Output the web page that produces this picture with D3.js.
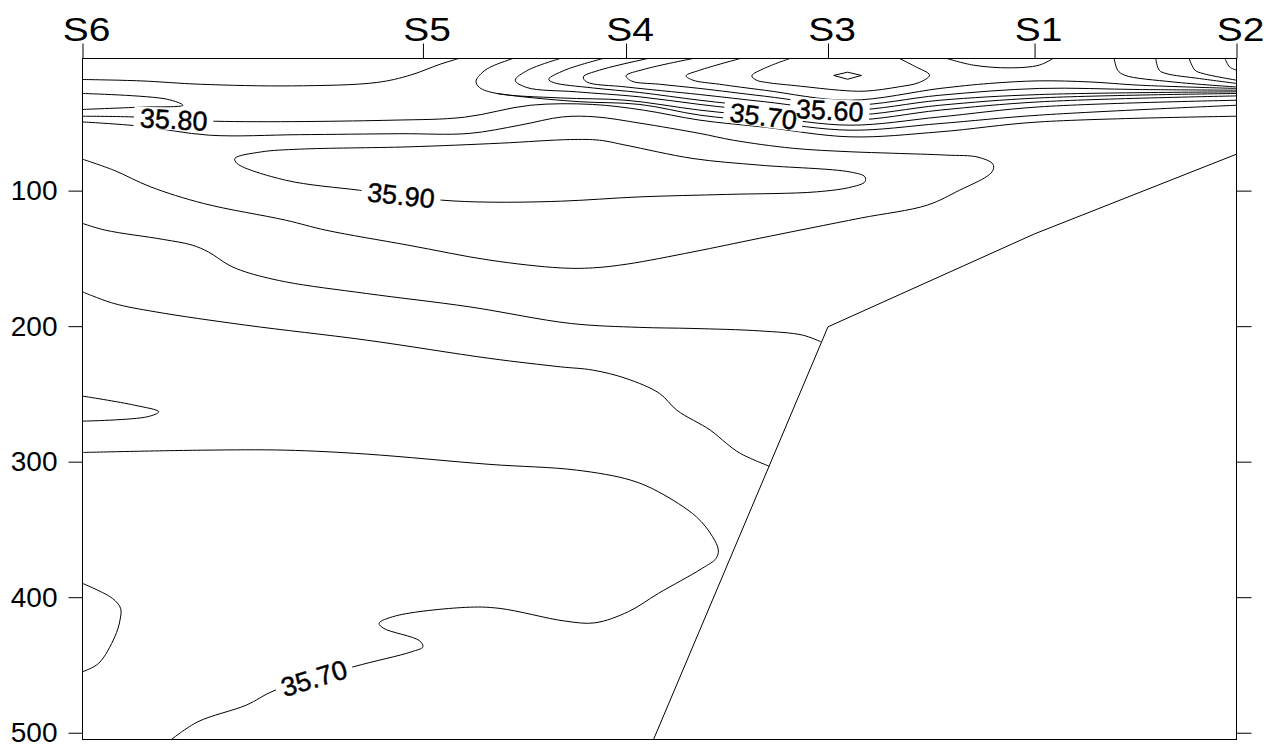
<!DOCTYPE html>
<html><head><meta charset="utf-8">
<script src="https://cdn.jsdelivr.net/npm/d3@7"></script>
<style>
html,body{margin:0;padding:0;background:#fff;}
svg{display:block;background:#fff;}
</style></head><body>
<svg id="chart" width="1269" height="749"></svg>
<script>
// ---- Stations along the section (distance, km-like units 0..100) ----
const stationNames = ["S6","S5","S4","S3","S1","S2"];
const stationDist  = [0, 29.5, 47.1, 64.6, 82.5, 100];
const depthTicks   = [100, 200, 300, 400, 500];

// ---- Bottom profile (distance, depth m) ----
const bottomDist  = [100, 82.5, 64.6, 47.1];
const bottomDepth = [73.1, 131.9, 200.5, 553];

// ---- Salinity isolines: [distance, depth] ----
const iso_a  = [[0,18.0],[5.0,19.0],[10.2,21.5],[18.2,22.7],[25.5,20.2],[28.4,14.8],[31.0,6.7],[32.6,2.5]];
const iso_b  = [[0,28.3],[7.3,32.5],[8.7,37.0],[5.0,38.4],[0,40.1]];
const iso_3580 = [[0,45.1],[4.3,45.6],[11.5,48.8],[26.9,48.0],[33.1,45.8],[38.8,37.0],[44.2,36.4],[48.6,40.6],[53.5,48.0],[59.1,53.2],[66.5,60.3],[74.3,56.6],[82.9,49.3],[100,45.1]];
const iso_3575 = [[35.9,28.3],[38.0,30.6],[43.1,34.4],[48.3,36.4],[53.5,44.3],[59.1,49.1],[66.5,55.4],[74.3,50.5],[82.9,44.3],[100,37.0]];
const iso_3570 = [[37.3,2.5],[35.5,8.2],[34.7,12.4],[34.1,19.2],[34.4,23.9],[35.9,28.3],[41.4,31.6],[47.1,33.3],[53.5,40.6],[59.1,45.4],[66.5,51.7],[74.3,45.6],[82.9,38.2],[100,33.3]];
const iso_3565 = [[41.4,2.5],[38.6,11.1],[37.5,18.5],[38.5,23.9],[42.8,27.1],[48.3,30.8],[53.5,36.4],[59.1,41.7],[66.5,48.0],[74.3,40.6],[82.9,34.5],[100,30.1]];
const iso_3560 = [[45.1,2.5],[41.8,11.1],[40.4,17.8],[40.8,20.2],[44.2,24.2],[48.3,27.6],[53.5,33.3],[59.1,38.4],[66.5,44.3],[74.3,37.0],[82.9,31.6],[100,28.3]];
const iso_3555 = [[49.0,2.5],[44.8,11.1],[43.4,16.1],[43.7,19.8],[47.1,23.5],[53.5,29.1],[59.1,34.4],[66.5,40.6],[74.3,33.3],[82.9,29.1],[100,27.1]];
const iso_3550 = [[52.9,2.5],[48.7,10.4],[47.1,15.3],[47.6,19.2],[50.0,21.5],[53.5,24.6],[59.1,30.3],[66.5,37.0],[74.3,29.6],[82.9,24.6],[91.6,25.4],[100,25.9]];
const iso_3545 = [[57.0,2.5],[53.5,11.1],[52.3,15.3],[52.9,18.5],[55.2,21.5],[59.1,25.9],[66.5,33.3],[74.3,24.6],[78.6,20.9],[82.9,19.0],[87.3,19.8],[91.6,22.2],[100,24.6]];
const iso_3540 = [[61.3,2.5],[59.1,9.7],[58.0,15.3],[58.4,18.5],[59.3,20.2],[62.2,22.9],[65.6,25.9],[67.8,26.6],[70.8,23.3],[72.5,20.2],[73.4,14.8],[72.1,8.2],[70.8,2.5]];
const iso_3535 = [[65.1,15.0],[66.3,12.6],[67.5,15.0],[66.3,17.8]];
const iso_s1   = [[74.9,2.5],[77.2,7.4],[80.3,9.4],[82.9,7.4],[84.1,2.5]];
const iso_e1   = [[89.4,2.5],[89.7,11.1],[90.3,14.8],[94.5,19.8],[100,23.5]];
const iso_e2   = [[93.0,2.5],[93.3,11.1],[93.9,13.6],[96.8,17.3],[100,20.9]];
const iso_e3   = [[95.9,2.5],[96.4,11.1],[97.1,13.6],[100,18.5]];
const iso_e4   = [[99.0,2.5],[99.4,8.7],[100,11.1]];
const iso_3585 = [[0,49.3],[5.0,52.4],[11.0,59.1],[18.8,58.7],[27.5,58.0],[33.5,57.8],[37.9,51.7],[41.6,45.6],[44.5,45.6],[48.3,50.2],[53.5,57.8],[56.4,62.8],[61.5,68.7],[66.5,71.3],[70.2,72.4],[74.9,73.8],[77.6,75.3],[78.9,80.5],[78.9,84.9],[78.4,89.3],[76.0,99.7],[73.2,110.7],[67.4,120.3],[58.7,135.1],[52.9,145.2],[47.2,154.2],[44.2,157.0],[41.4,157.0],[35.3,151.3],[28.2,140.2],[21.1,129.2],[17.6,121.8],[10.5,109.5],[5.9,97.2],[2.7,84.9],[0,76.8]];
const iso_3590 = [[13.2,76.3],[15.5,71.4],[18.8,69.4],[28.2,67.7],[36.2,65.0],[42.3,62.3],[44.8,62.8],[47.1,66.5],[52.9,76.3],[58.7,81.2],[66.5,86.2],[67.8,89.8],[67.8,93.5],[66.7,97.2],[63.6,100.9],[55.8,102.8],[48.3,104.6],[41.4,107.8],[35.3,108.5],[31.1,107.0],[27.5,103.3],[24.0,99.7],[17.6,92.3],[13.4,80.0]];
const iso_r    = [[0,124.2],[2.0,129.2],[7.0,136.0],[9.5,140.2],[10.9,145.2],[12.7,155.0],[14.1,159.9],[17.6,167.3],[24.6,175.9],[33.5,185.7],[42.3,198.0],[48.3,200.9],[52.9,201.7],[58.7,203.5],[62.4,206.6],[64.0,211.6]];
const iso_p    = [[0,174.7],[2.7,183.2],[6.3,189.4],[14.1,199.2],[24.6,210.3],[35.3,223.8],[41.4,230.0],[44.2,232.4],[47.1,238.6],[50.0,249.6],[51.5,262.0],[54.4,276.7],[55.8,286.5],[57.0,293.9],[59.5,303.3]];
const iso_w    = [[0,251.6],[4.5,258.3],[6.6,263.2],[5.6,266.9],[0,270.1]];
const iso_3570b = [[0,293.2],[10.5,291.5],[17.6,291.5],[24.6,294.4],[35.3,302.0],[42.8,306.2],[47.5,313.6],[49.9,322.2],[53.2,340.7],[54.6,355.4],[55.1,365.2],[54.9,371.4],[53.7,378.7],[49.9,397.2],[47.3,410.7],[44.4,418.9],[41.8,417.6],[36.1,408.2],[33.2,407.5],[27.1,413.9],[25.7,419.3],[26.1,423.0],[29.2,432.1],[29.5,436.6],[28.5,440.3],[23.5,451.3],[16.6,469.0],[14.2,479.6],[10.0,491.9],[7.7,505]];
const iso_bulge = [[0,389.8],[2.6,400.9],[3.3,408.2],[3.25,416.9],[2.8,429.2],[1.4,448.8],[0,455.0]];

// ---- Contour labels: text, distance, depth ----
const labelText  = ["35.80","35.90","35.70","35.60","35.70"];
const labelDist  = [7.9, 27.6, 59.0, 64.75, 20.05];
const labelDepth = [47.3, 103.3, 44.9, 40.6, 459.6];

// ================= drawing =================
const svg = d3.select("#chart");
const x = d3.scaleLinear().domain([0,100]).range([82.5,1236.5]);
const y = d3.scaleLinear().domain([2.5,505]).range([58.5,739.5]);
const FONT = "'Liberation Sans', Arial, Helvetica, sans-serif";

svg.append("defs").append("clipPath").attr("id","plotClip")
  .append("rect").attr("x",x(0)).attr("y",y(2.5))
  .attr("width",x(100)-x(0)).attr("height",y(505)-y(2.5));

const plot = svg.append("g").attr("clip-path","url(#plotClip)");

const openLine = d3.line().x(d=>x(d[0])).y(d=>y(d[1])).curve(d3.curveCatmullRom.alpha(0.5));
const closedLine = d3.line().x(d=>x(d[0])).y(d=>y(d[1])).curve(d3.curveCatmullRomClosed.alpha(0.5));
const straightClosed = d3.line().x(d=>x(d[0])).y(d=>y(d[1])).curve(d3.curveLinearClosed);
const straight = d3.line().x(d=>x(d[0])).y(d=>y(d[1]));

const openIsolines = [iso_a, iso_b, iso_3580, iso_3575, iso_3570, iso_3565, iso_3560, iso_3555,
  iso_3550, iso_3545, iso_3540, iso_s1, iso_e1, iso_e2, iso_e3, iso_e4, iso_3585, iso_r, iso_p,
  iso_w, iso_3570b, iso_bulge];
const closedIsolines = [iso_3590];

plot.selectAll("path.iso").data(openIsolines).join("path")
  .attr("class","iso").attr("d",openLine)
  .attr("fill","none").attr("stroke","#000").attr("stroke-width",1);
plot.selectAll("path.isoc").data(closedIsolines).join("path")
  .attr("class","isoc").attr("d",closedLine)
  .attr("fill","none").attr("stroke","#000").attr("stroke-width",1);
plot.append("path").datum(iso_3535).attr("d",straightClosed)
  .attr("fill","none").attr("stroke","#000").attr("stroke-width",1);

// bottom profile
const bottom = bottomDist.map((d,i)=>[d,bottomDepth[i]]);
plot.append("path").datum(bottom).attr("d",straight)
  .attr("fill","none").attr("stroke","#000").attr("stroke-width",1);

// contour labels with knockout
const labelAngle = [3, 6, 7, 3, -17];
const labTransform = (i)=>`translate(${x(labelDist[i])},${y(labelDepth[i])}) rotate(${labelAngle[i]})`;
const knockLayer = plot.append("g");
const textLayer = plot.append("g");
labelText.forEach((t,i)=>{
  const tx = textLayer.append("text").text(t)
    .attr("transform",labTransform(i))
    .attr("text-anchor","middle").attr("dy","0.36em")
    .attr("font-family",FONT).attr("font-size",27)
    .attr("fill","#000").attr("stroke","#000").attr("stroke-width",0.45);
  const bb = tx.node().getBBox();
  knockLayer.append("rect").attr("transform",labTransform(i))
    .attr("x",bb.x-6).attr("width",bb.width+12).attr("y",-11).attr("height",22)
    .attr("fill","#fff");
});

// frame
svg.append("rect").attr("x",x(0)).attr("y",y(2.5))
  .attr("width",x(100)-x(0)).attr("height",y(505)-y(2.5))
  .attr("fill","none").attr("stroke","#000").attr("stroke-width",1);

// top axis (stations)
const gTop = svg.append("g").attr("transform",`translate(0,${y(2.5)})`)
  .call(d3.axisTop(x).tickValues(stationDist).tickFormat((d,i)=>stationNames[i])
    .tickSize(15).tickPadding(3).tickSizeOuter(0));
gTop.select(".domain").remove();
gTop.attr("font-family",FONT).attr("font-size",33);
gTop.selectAll("line").attr("stroke","#000");
gTop.selectAll("text").attr("fill","#000").attr("x",3).attr("transform","scale(1.18,1)");

// left axis (depth)
const gLeft = svg.append("g").attr("transform",`translate(${x(0)},0)`)
  .call(d3.axisLeft(y).tickValues(depthTicks).tickSize(14).tickPadding(11).tickSizeOuter(0));
gLeft.select(".domain").remove();
gLeft.attr("font-family",FONT).attr("font-size",28);
gLeft.selectAll("line").attr("stroke","#000");
gLeft.selectAll("text").attr("fill","#000");

// right axis ticks
const gRight = svg.append("g").attr("transform",`translate(${x(100)},0)`)
  .call(d3.axisRight(y).tickValues(depthTicks).tickSize(15).tickFormat("").tickSizeOuter(0));
gRight.select(".domain").remove();
gRight.selectAll("line").attr("stroke","#000");
</script>
</body></html>
